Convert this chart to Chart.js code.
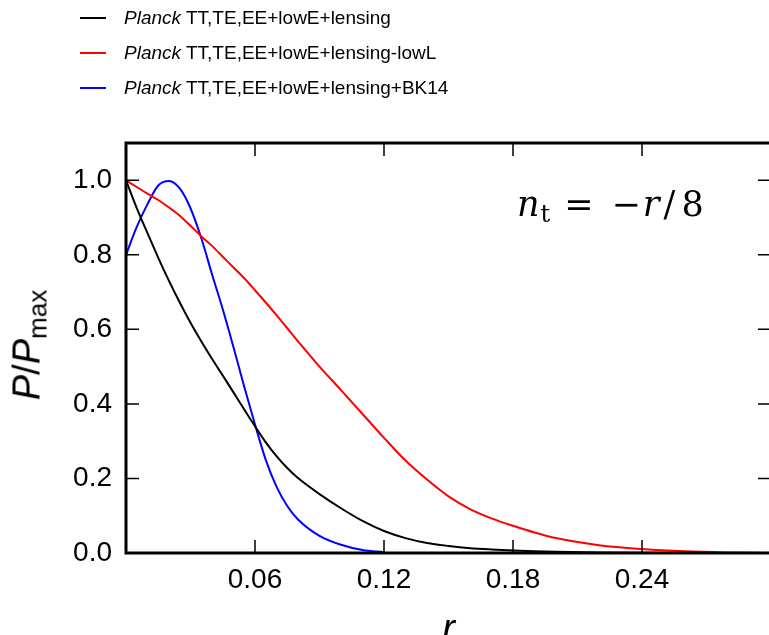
<!DOCTYPE html>
<html>
<head>
<meta charset="utf-8">
<script src="https://cdn.jsdelivr.net/npm/chart.js@4.4.1/dist/chart.umd.min.js"></script>
<style>
  html, body { margin: 0; padding: 0; background: #fff; overflow: hidden; }
  #wrap { position: relative; width: 769px; height: 635px; overflow: hidden; }
  #plot { position: absolute; left: 0; top: 0; }
  .legend { position: absolute; left: 80px; top: 0; font-family: "Liberation Sans", Arial, sans-serif; font-size: 19px; color: #000; }
  .legend .row { position: absolute; left: 0; height: 20px; line-height: 20px; white-space: nowrap; }
  .legend .swatch { position: absolute; left: 0; top: 9px; width: 26px; height: 2px; }
  .legend .label { position: absolute; left: 44px; top: 0; }
  #note { position: absolute; left: 517px; top: 187px; font-family: "DejaVu Serif", serif; font-size: 35px; line-height: 35px; white-space: nowrap; }
  #note sub { font-style: normal; font-size: 24px; vertical-align: -6px; margin-left: 1px; }
  #note .eq { margin: 0 18px 0 14px; }
  #note .r { margin-left: 2px; }
  #note .sl { margin: 0 6px 0 4px; }
  #ytitle { position: absolute; left: 32px; top: 345px; transform: translate(-50%, -50%) rotate(-90deg); font-family: "Liberation Sans", Arial, sans-serif; font-size: 38px; line-height: 40px; white-space: nowrap; }
  #ytitle sub { font-size: 26px; vertical-align: -7px; }
</style>
</head>
<body>
<div id="wrap">
  <canvas id="plot" width="772" height="635"></canvas>
  <div class="legend" id="legend"></div>
  <div id="note"><i>n</i><sub>t</sub><span class="eq">=</span>&minus;<i class="r">r</i><span class="sl">/</span>8</div>
  <div id="ytitle"><i>P</i>/<i>P</i><sub>max</sub></div>
</div>
<script>
// tensor-to-scalar ratio r and normalised posteriors
const rGrid = [0, 0.005, 0.01, 0.015, 0.02, 0.025, 0.03, 0.035, 0.04, 0.045, 0.05, 0.055, 0.06, 0.065, 0.07, 0.075, 0.08,
    0.09, 0.10, 0.11, 0.12, 0.13, 0.14, 0.15, 0.16, 0.17, 0.18, 0.19, 0.20, 0.22, 0.24, 0.26, 0.28, 0.30];
const pLensing = [1.0, 0.925, 0.858, 0.792, 0.73, 0.672, 0.618, 0.568, 0.521, 0.476, 0.431, 0.385, 0.34, 0.297, 0.26, 0.228, 0.201,
    0.158, 0.12, 0.086, 0.059, 0.04, 0.027, 0.019, 0.013, 0.0095, 0.007, 0.005, 0.0035, 0.0015, 0.0005, 0, 0, 0];
const pLowL = [1.0, 0.982, 0.964, 0.947, 0.927, 0.905, 0.878, 0.85, 0.824, 0.795, 0.766, 0.737, 0.705, 0.672, 0.638, 0.603, 0.568,
    0.50, 0.437, 0.373, 0.309, 0.248, 0.197, 0.152, 0.118, 0.093, 0.073, 0.055, 0.04, 0.021, 0.0107, 0.0045, 0.0015, 0];
const pBK14 = [0.8, 0.875, 0.936, 0.986, 0.998, 0.978, 0.925, 0.845, 0.748, 0.654, 0.552, 0.446, 0.345, 0.25, 0.178, 0.126, 0.09,
    0.046, 0.022, 0.008, 0.002, null, null, null, null, null, null, null, null, null, null, null, null, null];

const seriesNames = ['TT,TE,EE+lowE+lensing', 'TT,TE,EE+lowE+lensing-lowL', 'TT,TE,EE+lowE+lensing+BK14'];
const seriesColors = ['#000000', '#ff0000', '#0000ff'];
const xTicks = [0.06, 0.12, 0.18, 0.24];
const yTicks = [0, 0.2, 0.4, 0.6, 0.8, 1.0];

const toPoints = (ys) => rGrid.map((r, i) => ({ x: r, y: ys[i] }));

// html legend, "Planck" in italics
const legendEl = document.getElementById('legend');
seriesNames.forEach((name, i) => {
    const row = document.createElement('div');
    row.className = 'row';
    row.style.top = (8 + i * 35) + 'px';
    row.innerHTML = '<span class="swatch" style="background:' + seriesColors[i] + '"></span>' +
        '<span class="label"><i>Planck</i> ' + name + '</span>';
    legendEl.appendChild(row);
});

// inward ticks on all four sides plus the heavy frame
const frameTicks = {
    id: 'frameTicks',
    afterDraw(chart) {
        const { ctx, chartArea: a, scales: { x, y } } = chart;
        ctx.save();
        ctx.strokeStyle = '#000';
        ctx.lineWidth = 1.5;
        ctx.beginPath();
        xTicks.forEach(v => {
            const px = x.getPixelForValue(v);
            ctx.moveTo(px, a.bottom); ctx.lineTo(px, a.bottom - 13);
            ctx.moveTo(px, a.top); ctx.lineTo(px, a.top + 13);
        });
        yTicks.forEach(v => {
            const py = y.getPixelForValue(v);
            ctx.moveTo(a.left, py); ctx.lineTo(a.left + 13, py);
            ctx.moveTo(a.right, py); ctx.lineTo(a.right - 13, py);
        });
        ctx.stroke();
        ctx.lineWidth = 3;
        ctx.strokeRect(a.left, a.top, a.right - a.left, a.bottom - a.top);
        ctx.restore();
    }
};

const tickFont = { family: "'Liberation Sans', Arial, sans-serif", size: 28 };

new Chart(document.getElementById('plot').getContext('2d'), {
    type: 'line',
    data: {
        datasets: [
            { label: seriesNames[0], data: toPoints(pLensing), borderColor: seriesColors[0] },
            { label: seriesNames[1], data: toPoints(pLowL), borderColor: seriesColors[1] },
            { label: seriesNames[2], data: toPoints(pBK14), borderColor: seriesColors[2] }
        ]
    },
    options: {
        responsive: false,
        animation: false,
        parsing: false,
        spanGaps: false,
        layout: { padding: { top: 143, right: 1, left: 0, bottom: 0 } },
        elements: {
            point: { radius: 0 },
            line: { borderWidth: 2, cubicInterpolationMode: 'monotone', fill: false }
        },
        plugins: { legend: { display: false }, tooltip: { enabled: false } },
        scales: {
            x: {
                type: 'linear', min: 0, max: 0.3,
                grid: { display: false, drawTicks: false },
                border: { display: false },
                afterBuildTicks: (s) => { s.ticks = xTicks.map(v => ({ value: v })); },
                afterFit: (s) => { s.height = 82; },
                ticks: { color: '#000', font: tickFont, padding: 10, maxRotation: 0, callback: (v) => v.toFixed(2) },
                title: { display: true, text: 'r', color: '#000', padding: { top: 0, bottom: -3 },
                    font: { family: "'Liberation Sans', Arial, sans-serif", size: 38, style: 'italic', lineHeight: 0.42 } }
            },
            y: {
                type: 'linear', min: 0, max: 1.1,
                grid: { display: false, drawTicks: false },
                border: { display: false },
                afterBuildTicks: (s) => { s.ticks = yTicks.map(v => ({ value: v })); },
                afterFit: (s) => { s.width = 126; },
                ticks: { color: '#000', font: tickFont, padding: 14, callback: (v) => v.toFixed(1) }
            }
        }
    },
    plugins: [frameTicks]
});
</script>
</body>
</html>
